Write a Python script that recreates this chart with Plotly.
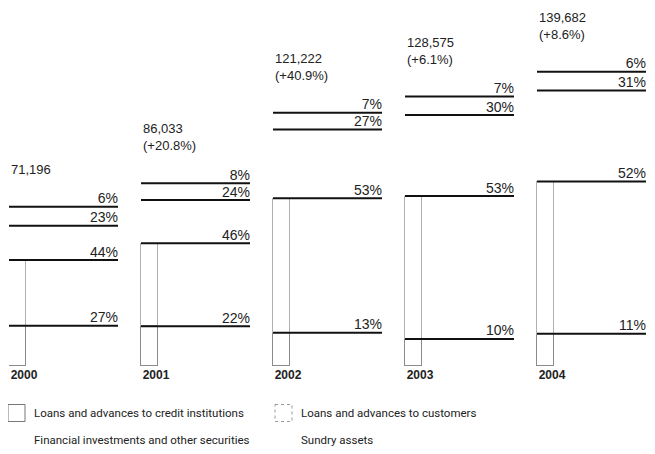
import plotly.graph_objects as go

years = ["2000", "2001", "2002", "2003", "2004"]
totals = [71196, 86033, 121222, 128575, 139682]
series_names = [
    "Loans and advances to credit institutions",
    "Loans and advances to customers",
    "Financial investments and other securities",
    "Sundry assets",
]
# segment amounts as drawn in the chart (EUR m, estimated)
amt_credit = [19200, 18900, 15800, 12900, 15400]
amt_customers = [31300, 39600, 64200, 68100, 72600]
amt_securities = [16400, 20600, 32700, 38600, 43300]
amt_sundry = [9000, 8000, 8000, 8800, 8900]
# printed shares
pct_credit = [27, 22, 13, 10, 11]
pct_customers = [44, 46, 53, 53, 52]
pct_securities = [23, 24, 27, 30, 31]
pct_sundry = [6, 8, 7, 7, 6]

series_amts = [amt_credit, amt_customers, amt_securities, amt_sundry]
series_pcts = [pct_credit, pct_customers, pct_securities, pct_sundry]
outline = ["#8a8a8a", "#b0b0b0", "white", "white"]

# the page body adds an 8px margin on every side, so the figure is drawn smaller
PAGE = 8
W, H = 655 - 2 * PAGE, 454 - 2 * PAGE
ML, MR, MT, MB = 1, 0, 30 - PAGE, H - (366 - PAGE)
PW, PH = W - ML - MR, H - MT - MB
PX_PER_GROUP = 132.0
BAR_OFF = 8.5 / PX_PER_GROUP
BAR_W = 17 / PX_PER_GROUP
LINE_LEN = 109 / PX_PER_GROUP
TXT = "#222222"
FONT = "Liberation Sans"
LEG_FONT = "Roboto"


def px_x(px):
    return (px - PAGE - ML) / PW


def px_y(py):
    return (H - MB - (py - PAGE)) / PH


fig = go.Figure()
xs = list(range(len(years)))

cum = [0.0] * len(years)
for name, vals, pcts, oc in zip(series_names, series_amts, series_pcts, outline):
    fig.add_trace(go.Bar(
        x=[x + BAR_OFF for x in xs], y=vals, width=BAR_W, name=name, showlegend=False,
        marker=dict(color="white", line=dict(color=oc, width=1)),
    ))
    cum = [c + v for c, v in zip(cum, vals)]
    lx, ly = [], []
    for x, c in zip(xs, cum):
        lx += [x, x + LINE_LEN, None]
        ly += [c, c, None]
    fig.add_trace(go.Scatter(x=lx, y=ly, mode="lines", line=dict(color="#111111", width=2),
                             showlegend=False, hoverinfo="skip"))
    fig.add_trace(go.Scatter(
        x=[x + LINE_LEN for x in xs], y=cum, mode="text", cliponaxis=False,
        text=[f"{p}%" for p in pcts], textposition="top left",
        textfont=dict(family=FONT, size=14, color=TXT), showlegend=False, hoverinfo="skip",
    ))

for i, (x, t, c) in enumerate(zip(xs, totals, cum)):
    label = f"{t:,}"
    if i > 0:
        label += f"<br>(+{(t / totals[i - 1] - 1) * 100:.1f}%)"
    fig.add_annotation(x=x, y=c, text=label, showarrow=False, xanchor="left", yanchor="bottom",
                       align="left", yshift=28, font=dict(family=FONT, size=13, color=TXT))

# legend drawn by hand (positions in reference page pixels)
legend_items = [
    (series_names[0], 8, 413, dict(color="#777777", width=1)),
    (series_names[1], 275, 413, dict(color="#999999", width=1, dash="dot")),
    (series_names[2], 8, 440, None),
    (series_names[3], 275, 440, None),
]
for name, lx, ly, ln in legend_items:
    if ln is not None:
        fig.add_shape(type="rect", xref="paper", yref="paper",
                      x0=px_x(lx), x1=px_x(lx + 17), y0=px_y(ly - 8.5), y1=px_y(ly + 8.5),
                      line=ln, fillcolor="white")
    fig.add_annotation(xref="paper", yref="paper", x=px_x(lx + 24), y=px_y(ly), text=name,
                       showarrow=False, xanchor="left", yanchor="middle",
                       font=dict(family=LEG_FONT, size=11.5, color=TXT))

fig.update_xaxes(range=[0, PW / PX_PER_GROUP], tickvals=[x + 15 / PX_PER_GROUP for x in xs],
                 ticktext=[f"<b>{y}</b>" for y in years], showgrid=False, zeroline=False,
                 showline=False, ticks="", tickfont=dict(family=FONT, size=12, color=TXT))
fig.update_yaxes(range=[0, PH / 2.098 * 1000], visible=False)
fig.update_layout(
    barmode="stack",
    width=W, height=H,
    margin=dict(l=ML, r=MR, t=MT, b=MB, autoexpand=False),
    paper_bgcolor="white", plot_bgcolor="white",
    bargap=0,
    showlegend=False,
)

fig.write_html("out.html")
